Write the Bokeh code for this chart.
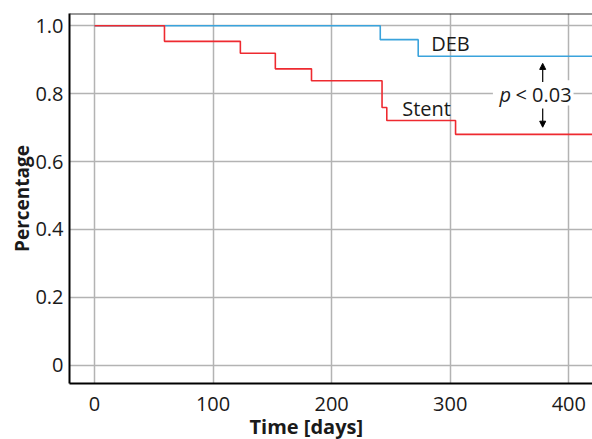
from bokeh.plotting import figure
from bokeh.models import Range1d, FixedTicker, Label, Arrow, NormalHead, BoxAnnotation, Span, Title
from bokeh.embed import file_html
from bokeh.resources import INLINE

# ---- data ----
deb_time = [0, 241, 273, 440]
deb_surv = [1.0, 0.959, 0.910, 0.910]
stent_time = [0, 59, 123, 152.5, 183, 242.5, 246.5, 304.5, 440]
stent_surv = [1.0, 0.954, 0.919, 0.873, 0.838, 0.759, 0.721, 0.680, 0.680]
x_ticks = [0, 100, 200, 300, 400]
y_ticks = [0, 0.2, 0.4, 0.6, 0.8, 1.0]
y_tick_labels = ["0", "0.2", "0.4", "0.6", "0.8", "1.0"]
series_names = ["DEB", "Stent"]
p_symbol = "p"
p_value_text = "< 0.03"
x_label = "Time [days]"
y_label = "Percentage"

FONT = "Open Sans"
TXT = "#1a1a1a"

x0, x1 = -21.1, 420
y0, y1 = -0.054, 1.036

p = figure(width=592, height=439, output_backend="svg", toolbar_location=None,
           x_range=Range1d(x0, x1), y_range=Range1d(y0, y1),
           min_border_left=69, min_border_right=0, min_border_top=13, min_border_bottom=56)
p.outline_line_color = None
p.background_fill_color = "white"
p.border_fill_color = "white"

for ax in (p.xaxis[0], p.yaxis[0]):
    ax.axis_line_color = "black"
    ax.axis_line_width = 2
    ax.major_tick_line_color = None
    ax.minor_tick_line_color = None
    ax.major_tick_out = 0
    ax.major_tick_in = 0
    ax.minor_tick_out = 0
    ax.major_label_text_font = FONT
    ax.major_label_text_font_size = "20px"
    ax.major_label_text_color = TXT
p.xaxis.ticker = FixedTicker(ticks=x_ticks)
p.yaxis.ticker = FixedTicker(ticks=y_ticks)
p.yaxis.major_label_overrides = dict(zip(y_ticks, y_tick_labels))
p.xaxis.major_label_standoff = 13
p.yaxis.major_label_standoff = 6

p.yaxis.axis_label = y_label
p.yaxis.axis_label_text_font = FONT
p.yaxis.axis_label_text_font_style = "bold"
p.yaxis.axis_label_text_font_size = "19px"
p.yaxis.axis_label_text_color = TXT
p.yaxis.axis_label_standoff = -3

p.add_layout(Title(text=x_label, align="left", offset=180, standoff=-5,
                   text_font=FONT, text_font_style="bold", text_font_size="20px",
                   text_color=TXT), "below")

p.xgrid.ticker = FixedTicker(ticks=x_ticks)
p.ygrid.ticker = FixedTicker(ticks=y_ticks)
p.grid.grid_line_color = "#b3b3b3"
p.grid.grid_line_width = 1.5

# survival curves
p.step(deb_time, deb_surv, mode="after", line_color="#3aa3dc", line_width=1.6)
p.step(stent_time, stent_surv, mode="after", line_color="#ee2a30", line_width=1.6)

# top border
p.add_layout(Span(location=y1, dimension="width", line_color="#333333", line_width=2))

# white box behind p-value text
p.add_layout(BoxAnnotation(left=336, right=404, bottom=0.765, top=0.839,
                           fill_color="white", fill_alpha=1.0, line_color=None))

# arrows
p.add_layout(Arrow(x_start=378, y_start=0.834, x_end=378, y_end=0.889,
                   line_color="black", line_width=1.2,
                   end=NormalHead(size=6, fill_color="black", line_color="black")))
p.add_layout(Arrow(x_start=378, y_start=0.756, x_end=378, y_end=0.701,
                   line_color="black", line_width=1.2,
                   end=NormalHead(size=6, fill_color="black", line_color="black")))

def lab(x, y, text, **kw):
    opts = dict(text_font=FONT, text_font_size="20px", text_color=TXT,
                text_baseline="alphabetic")
    opts.update(kw)
    p.add_layout(Label(x=x, y=y, text=text, **opts))

lab(284, 0.947, series_names[0])
lab(259.5, 0.756, series_names[1])
lab(341.5, 0.796, p_symbol, text_font_style="italic")
lab(355, 0.796, p_value_text)

open("out.html", "w").write(file_html(p, INLINE))
